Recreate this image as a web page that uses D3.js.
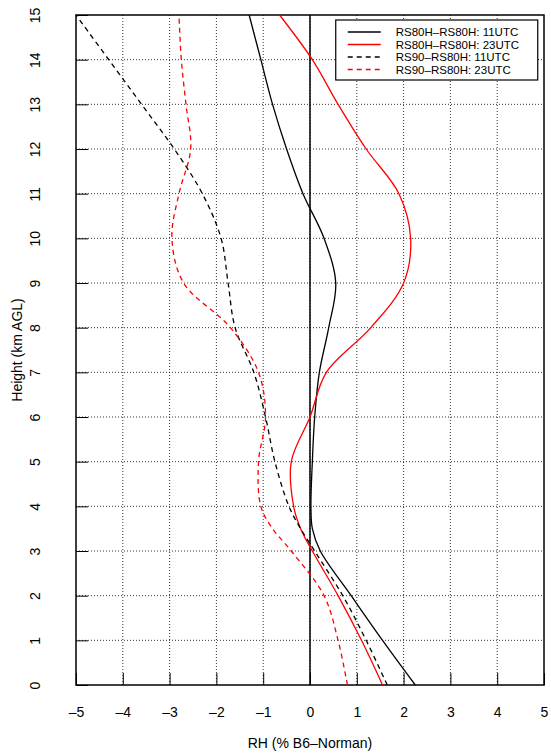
<!DOCTYPE html>
<html><head><meta charset="utf-8">
<script src="https://cdn.jsdelivr.net/npm/d3@7"></script>
<style>body{margin:0;background:#fff}text{font-family:"Liberation Sans",Arial,sans-serif;}</style>
</head><body><div id="chart"></div>
<script>
// heights (km AGL) and RH differences (%)
var heights = [0,1,2,3,3.5,4,5,6,7,8,9,10,11,12,13,14,15];
var rs80h11 = [2.25,1.55,0.88,0.22,0.05,0.02,0.05,0.1,0.2,0.4,0.55,0.3,-0.15,-0.5,-0.8,-1.05,-1.3];
var rs80h23 = [1.55,1.1,0.6,0.05,-0.2,-0.35,-0.4,0.0,0.35,1.3,2.0,2.15,1.9,1.2,0.6,0.05,-0.65];
var rs90h11 = [1.65,1.2,0.7,0.1,-0.2,-0.45,-0.75,-0.95,-1.2,-1.6,-1.75,-1.9,-2.3,-2.9,-3.6,-4.3,-5.0];
var rs90h23 = [0.8,0.6,0.3,-0.4,-0.8,-1.05,-1.1,-0.95,-1.1,-1.7,-2.7,-2.95,-2.8,-2.55,-2.65,-2.75,-2.8];
var seriesNames = ["RS80H\u2013RS80H: 11UTC","RS80H\u2013RS80H: 23UTC","RS90\u2013RS80H: 11UTC","RS90\u2013RS80H: 23UTC"];
var seriesData = [rs80h11, rs80h23, rs90h11, rs90h23];
var colors = ["#000","#f00","#000","#f00"];
var dashes = [null,null,"5,4","5,4"];
var xTicks = [-5,-4,-3,-2,-1,0,1,2,3,4,5];
var yTicks = d3.range(0,16);

var margin = {top: 15, right: 7, bottom: 70, left: 76};
var W = 551, H = 755;
var width = W - margin.left - margin.right, height = H - margin.top - margin.bottom;

var svg = d3.select("#chart").append("svg").attr("width", W).attr("height", H)
  .append("g").attr("transform", "translate(" + margin.left + "," + margin.top + ")");

var x = d3.scaleLinear().domain([-5,5]).range([0,width]);
var y = d3.scaleLinear().domain([0,15]).range([height,0]);

// dotted grid
svg.selectAll(".gx").data(xTicks.slice(1,-1)).enter().append("line")
  .attr("x1", d => x(d)).attr("x2", d => x(d)).attr("y1",0).attr("y2",height)
  .attr("stroke","#000").attr("stroke-width",0.8).attr("stroke-dasharray","1,2");
svg.selectAll(".gy").data(yTicks.slice(1,-1)).enter().append("line")
  .attr("y1", d => y(d)).attr("y2", d => y(d)).attr("x1",0).attr("x2",width)
  .attr("stroke","#000").attr("stroke-width",0.8).attr("stroke-dasharray","1,2");

// axes with inward ticks
svg.append("g").attr("transform","translate(0,"+height+")")
  .call(d3.axisBottom(x).tickValues(xTicks).tickSize(-12).tickPadding(22).tickFormat(d => d < 0 ? "\u2013"+(-d) : d))
  .call(g => g.select(".domain").remove())
  .selectAll("text").attr("font-size",14);
svg.append("g")
  .call(d3.axisLeft(y).tickValues(yTicks).tickSize(-12).tickFormat(d3.format("d")))
  .call(g => g.select(".domain").remove())
  .call(g => g.selectAll("text").attr("font-size",14).attr("dy",null)
     .attr("transform","rotate(-90)").attr("x",0).attr("y",-40)
     .attr("text-anchor","middle").attr("dominant-baseline","middle"));

svg.append("rect").attr("width",width).attr("height",height).attr("fill","none").attr("stroke","#000").attr("stroke-width",1.5);
svg.append("line").attr("x1",x(0)).attr("x2",x(0)).attr("y1",0).attr("y2",height).attr("stroke","#000").attr("stroke-width",1.5);

var line = d3.line().curve(d3.curveCatmullRom.alpha(0.5));
seriesData.forEach(function(vals,i){
  svg.append("path").datum(vals.map((v,j) => [x(v), y(heights[j])]))
    .attr("d", line).attr("fill","none").attr("stroke",colors[i]).attr("stroke-width",1.3)
    .attr("stroke-dasharray",dashes[i]);
});

// legend
var lg = svg.append("g").attr("transform","translate("+(x(0.55))+",5)");
lg.append("rect").attr("width",202).attr("height",60).attr("fill","#fff").attr("stroke","#000").attr("stroke-width",1.2);
seriesNames.forEach(function(n,i){
  var yy = 12 + i*12.5;
  lg.append("line").attr("x1",12).attr("x2",45).attr("y1",yy).attr("y2",yy).attr("stroke",colors[i]).attr("stroke-width",1.3).attr("stroke-dasharray",dashes[i]);
  lg.append("text").attr("x",60).attr("y",yy).attr("dy","0.35em").attr("font-size",11.5).text(n);
});

svg.append("text").attr("x",width/2).attr("y",height+63).attr("text-anchor","middle").attr("font-size",14).text("RH (% B6\u2013Norman)");
svg.append("text").attr("transform","rotate(-90)").attr("x",-height/2).attr("y",-54).attr("text-anchor","middle").attr("font-size",14).text("Height (km AGL)");
</script></body></html>
